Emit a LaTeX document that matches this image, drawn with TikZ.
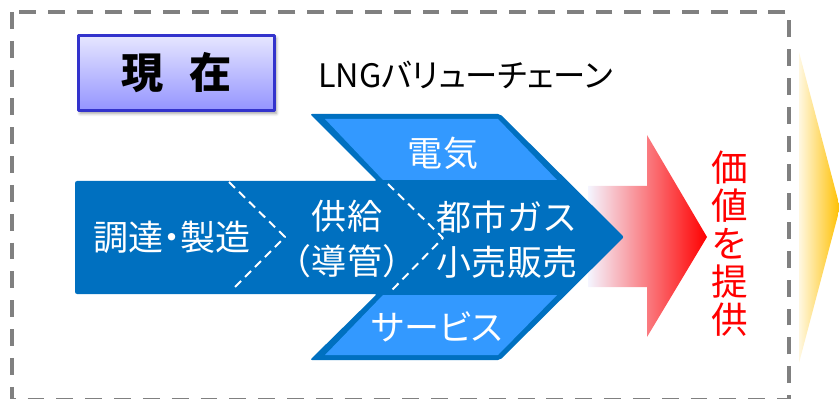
\documentclass[tikz,border=0pt]{standalone}
\usepackage{fontspec}
\setmainfont{Noto Sans CJK JP}
\usetikzlibrary{shadows.blur}
\definecolor{lngDark}{HTML}{0070C0}
\definecolor{lngLight}{HTML}{3399FF}
\definecolor{valueRed}{HTML}{FF0000}
\definecolor{nextGold}{HTML}{FFC000}
\definecolor{frameGray}{HTML}{808080}
\definecolor{badgeEdge}{HTML}{3333CC}
\definecolor{badgeTop}{HTML}{E6E6FF}
\definecolor{badgeBottom}{HTML}{9494FF}
% proportional kana
\newcommand{\palt}{\addfontfeature{RawFeature=+palt}}

\begin{document}
\begin{tikzpicture}[
  x=.025cm, y=-.025cm,
  line join=round,
  chain text/.style={text=white, align=center, inner sep=0pt,
    font=\fontsize{24.9}{32}\selectfont},
  chain cut/.style={draw=white, line width=1.4pt, dash pattern=on 6pt off 4pt},
  badge/.style={draw=badgeEdge, line width=2.1pt, top color=badgeTop,
    bottom color=badgeBottom, minimum width=4.9cm, minimum height=1.88cm,
    blur shadow={shadow xshift=1.2pt, shadow yshift=-2pt},
    font=\fontsize{30}{32}\selectfont\bfseries}
]
\useasboundingbox (0,0) rectangle (839,399);
\clip (0,0) rectangle (839,399);

% outer dashed frame, its bottom edge runs along the page border
\draw[frameGray, line width=2.5pt, dash pattern=on 12pt off 8.5pt]
  (12,12) rectangle (789,400);

% head of the next (cut off) arrow
\shade[left color=nextGold!12!white, middle color=nextGold, right color=nextGold]
  (799,52) -- (840,207.5) -- (799,363) -- cycle;

% value arrow, fading in from the left
\shade[left color=blue!4!white, right color=valueRed]
  (588,186) -- (647,186) -- (647,135) -- (707,237) -- (647,337)
  -- (647,287) -- (588,287) -- cycle;

% value chain chevron with the two side bands
\fill[lngDark, rounded corners=1.5pt]
  (75,181) -- (377,181) -- (310,114) -- (500,114) -- (624,237)
  -- (500,360) -- (310,360) -- (377,294) -- (75,294) -- cycle;
\fill[lngLight] (325,119) -- (498,119) -- (557,180) -- (383,180) -- cycle;
\fill[lngLight] (383,295) -- (557,295) -- (498,355) -- (325,355) -- cycle;

\coordinate (cutA top) at (229,182);
\coordinate (cutA tip) at (285,237);
\coordinate (cutA bot) at (232,290);
\coordinate (cutB top) at (388,184);
\coordinate (cutB tip) at (443,238);
\coordinate (cutB bot) at (391,291);
\draw[chain cut] (cutA top) -- (cutA tip) -- (cutA bot);
\draw[chain cut] (cutB top) -- (cutB tip) -- (cutB bot);

\node[chain text] (procure) at (172,237) {調達{\palt ・}製造};
\node[chain text] (supply) at (347,239) {供給\\（導管）};
\node[chain text] (retail) at (507,240) {都市ガス\\小売販売};
\node[chain text] (power) at (443,153) {電気};
\node[chain text] (service) at (437,327) {\palt サービス};

% heading
\node[badge] (now) at (176.5,73) {現\hspace{.62em}在};
\node[anchor=west, inner sep=0pt, font=\fontsize{23}{26}\selectfont\palt]
  (title) at (318,75) {LNGバリューチェーン};

\node[text=valueRed, align=center, inner sep=0pt,
  font=\fontsize{26}{27}\selectfont] (value) at (730,244)
  {価\\値\\を\\提\\供};
\end{tikzpicture}
\end{document}
